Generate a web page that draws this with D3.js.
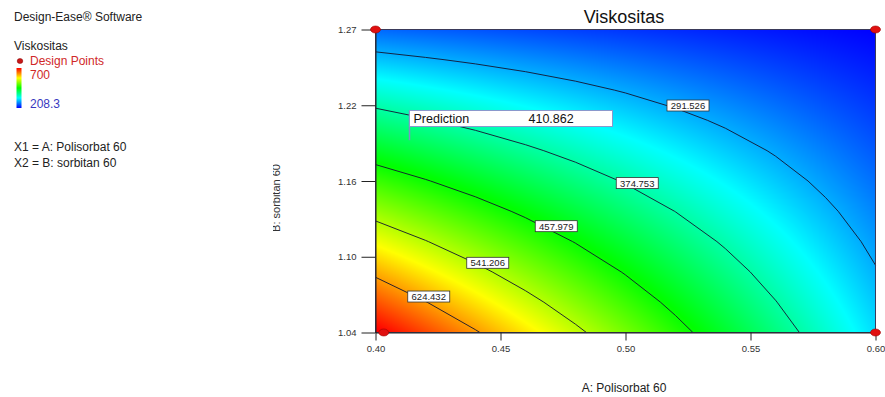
<!DOCTYPE html>
<html>
<head>
<meta charset="utf-8">
<script src="https://cdn.jsdelivr.net/npm/d3@7"></script>
<style>
  body { margin: 0; background: #fff; }
  svg { font-family: "Liberation Sans", Arial, sans-serif; }
</style>
</head>
<body>
<svg id="chart" width="885" height="397"></svg>
<script>
// factor levels of the response grid (A: Polisorbat 60, B: sorbitan 60)
var aLevels = [0.40, 0.42, 0.44, 0.46, 0.48, 0.50, 0.52, 0.54, 0.56, 0.58, 0.60];
var bLevels = [1.04, 1.063, 1.086, 1.109, 1.132, 1.155, 1.178, 1.201, 1.224, 1.247, 1.27];

// Viskositas, one row per B level (bottom to top)
var viskGrid = [
  [706.0, 666.9, 627.9, 588.8, 549.7, 510.7, 471.6, 432.5, 393.4, 354.4, 315.3],
  [661.3, 625.6, 589.9, 554.3, 518.6, 482.9, 447.3, 411.6, 375.9, 340.3, 304.6],
  [616.5, 584.2, 552.0, 519.7, 487.5, 455.2, 422.9, 390.7, 358.4, 326.2, 293.9],
  [571.8, 542.9, 514.0, 485.2, 456.3, 427.5, 398.6, 369.8, 340.9, 312.1, 283.2],
  [527.0, 501.6, 476.1, 450.7, 425.2, 399.8, 374.3, 348.9, 323.4, 298.0, 272.5],
  [482.3, 460.2, 438.2, 416.1, 394.1, 372.0, 350.0, 327.9, 305.9, 283.8, 261.8],
  [437.5, 418.9, 400.2, 381.6, 362.9, 344.3, 325.7, 307.0, 288.4, 269.7, 251.1],
  [392.8, 377.5, 362.3, 347.0, 331.8, 316.6, 301.3, 286.1, 270.9, 255.6, 240.4],
  [348.0, 336.2, 324.3, 312.5, 300.7, 288.9, 277.0, 265.2, 253.4, 241.5, 229.7],
  [303.3, 294.8, 286.4, 278.0, 269.6, 261.1, 252.7, 244.3, 235.9, 227.4, 219.0],
  [258.5, 253.5, 248.5, 243.4, 238.4, 233.4, 228.4, 223.4, 218.3, 213.3, 208.3]
];

var contourLevels = [291.526, 374.753, 457.979, 541.206, 624.432];
var labelA = [0.5250, 0.5047, 0.4723, 0.4449, 0.4213];
var labelB = [1.2123, 1.1534, 1.1207, 1.0929, 1.0673];

var designA = [0.40, 0.60, 0.4033, 0.60];
var designB = [1.27, 1.27, 1.04, 1.04];

var predA = 0.4136, predB = 1.186, predValue = "410.862";

var colorMin = 208.3, colorMax = 700;
var xTicks = [0.40, 0.45, 0.50, 0.55, 0.60];
var yTicks = [1.04, 1.0975, 1.155, 1.2125, 1.27];
var yTickLabels = ["1.04", "1.10", "1.16", "1.22", "1.27"];

var svg = d3.select("#chart");

var x = d3.scaleLinear().domain([0.40, 0.60]).range([375.5, 875.5]);
var y = d3.scaleLinear().domain([1.04, 1.27]).range([332.5, 29.5]);

var rainbow = ["#0000ff", "#00ffff", "#00ff00", "#ffff00", "#ff0000"];
var color = d3.scaleLinear()
    .domain(d3.range(5).map(function(i){ return colorMin + i * (colorMax - colorMin) / 4 }))
    .range(rainbow)
    .clamp(true);

var nx = aLevels.length, ny = bLevels.length;

// grid value at a point (bilinear between grid nodes, for painting only)
function gridAt(a, b){
  var gi = (a - aLevels[0]) / (aLevels[nx-1] - aLevels[0]) * (nx - 1);
  var gj = (b - bLevels[0]) / (bLevels[ny-1] - bLevels[0]) * (ny - 1);
  gi = Math.max(0, Math.min(nx - 1.0001, gi));
  gj = Math.max(0, Math.min(ny - 1.0001, gj));
  var i = Math.floor(gi), j = Math.floor(gj), fi = gi - i, fj = gj - j;
  var v00 = viskGrid[j][i], v10 = viskGrid[j][i+1],
      v01 = viskGrid[j+1][i], v11 = viskGrid[j+1][i+1];
  return (v00 * (1-fi) + v10 * fi) * (1-fj) + (v01 * (1-fi) + v11 * fi) * fj;
}

// colour fill
var px0 = 375, py0 = 30;
var pw = 501, ph = 302;
var canvas = document.createElement("canvas");
canvas.width = pw; canvas.height = ph;
var ctx = canvas.getContext("2d");
var img = ctx.createImageData(pw, ph);
for (var py = 0; py < ph; py++){
  var b = y.invert(py0 + py + 0.5);
  for (var px = 0; px < pw; px++){
    var a = x.invert(px0 + px + 0.5);
    var c = d3.rgb(color(gridAt(a, b)));
    var k = (py * pw + px) * 4;
    img.data[k] = c.r; img.data[k+1] = c.g; img.data[k+2] = c.b; img.data[k+3] = 255;
  }
}
ctx.putImageData(img, 0, 0);
svg.append("image")
    .attr("x", px0).attr("y", py0)
    .attr("width", pw).attr("height", ph)
    .attr("href", canvas.toDataURL());

// contour lines
var flat = [];
viskGrid.forEach(function(row){ row.forEach(function(v){ flat.push(v) }) });
var contours = d3.contours().size([nx, ny]).thresholds(contourLevels)(flat);

function toA(c){ var t = Math.max(0, Math.min(nx - 1, c - 0.5)); return aLevels[0] + t * (aLevels[nx-1] - aLevels[0]) / (nx - 1) }
function toB(c){ var t = Math.max(0, Math.min(ny - 1, c - 0.5)); return bLevels[0] + t * (bLevels[ny-1] - bLevels[0]) / (ny - 1) }
function onEdge(p, q){
  return (p[0] === q[0] && (p[0] === aLevels[0] || p[0] === aLevels[nx-1])) ||
         (p[1] === q[1] && (p[1] === bLevels[0] || p[1] === bLevels[ny-1]));
}

var line = d3.line().x(function(d){ return x(d[0]) }).y(function(d){ return y(d[1]) });
var gLines = svg.append("g").attr("class", "contours");

contours.forEach(function(cn){
  cn.coordinates.forEach(function(poly){
    poly.forEach(function(ring){
      var pts = ring.map(function(p){ return [toA(p[0]), toB(p[1])] });
      var seg = [];
      for (var i = 1; i < pts.length; i++){
        if (onEdge(pts[i-1], pts[i])){
          if (seg.length > 1) gLines.append("path").attr("d", line(seg));
          seg = [];
        } else {
          if (seg.length === 0) seg.push(pts[i-1]);
          seg.push(pts[i]);
        }
      }
      if (seg.length > 1) gLines.append("path").attr("d", line(seg));
    });
  });
});
gLines.selectAll("path")
    .attr("fill", "none")
    .attr("stroke", "#141430")
    .attr("stroke-width", 0.9);

// contour labels
var labels = svg.append("g").selectAll("g")
    .data(contourLevels).enter()
    .append("g")
    .attr("transform", function(d, i){ return "translate(" + x(labelA[i]) + "," + y(labelB[i]) + ")" });
labels.append("rect")
    .attr("x", -21).attr("y", -5.5).attr("width", 42).attr("height", 11)
    .attr("fill", "#fff").attr("stroke", "#333").attr("stroke-width", 0.8);
labels.append("text")
    .attr("text-anchor", "middle").attr("y", 3.5)
    .attr("font-size", 9.5).attr("fill", "#222")
    .text(function(d){ return d3.format(".3f")(d) });

// frame
svg.append("rect")
    .attr("x", x(0.40)).attr("y", y(1.27))
    .attr("width", x(0.60) - x(0.40)).attr("height", y(1.04) - y(1.27))
    .attr("fill", "none").attr("stroke", "#3a3a5a").attr("stroke-width", 1);

// axes
var xAxis = svg.append("g")
    .attr("transform", "translate(0," + y(1.04) + ")")
    .call(d3.axisBottom(x).tickValues(xTicks).tickFormat(d3.format(".2f"))
      .tickSize(8).tickSizeOuter(0).tickPadding(5));
var yAxis = svg.append("g")
    .attr("transform", "translate(" + x(0.40) + ",0)")
    .call(d3.axisLeft(y).tickValues(yTicks).tickFormat(function(d, i){ return yTickLabels[i] })
      .tickSize(14).tickSizeOuter(0).tickPadding(5));
[xAxis, yAxis].forEach(function(g){
  g.attr("font-family", null).attr("font-size", 9.5);
  g.selectAll("path, line").attr("stroke", "#222");
  g.selectAll("text").attr("fill", "#333");
});

// design points
svg.append("g").selectAll("ellipse")
    .data(designA).enter()
    .append("ellipse")
    .attr("cx", function(d){ return x(d) })
    .attr("cy", function(d, i){ return y(designB[i]) })
    .attr("rx", 5).attr("ry", 3.5)
    .attr("fill", "#e01010").attr("stroke", "#a00000").attr("stroke-width", 0.6);

// prediction flag
var fx = x(predA), fy = y(predB);
svg.append("line")
    .attr("x1", fx).attr("x2", fx).attr("y1", fy).attr("y2", 110.5)
    .attr("stroke", "#7f8fc8").attr("stroke-width", 1.5);
svg.append("rect")
    .attr("x", fx).attr("y", 110.5).attr("width", 203).attr("height", 16)
    .attr("fill", "#fff").attr("stroke", "#8a98cc").attr("stroke-width", 1);
svg.append("text").attr("x", fx + 4).attr("y", 123)
    .attr("font-size", 12.5).attr("fill", "#111").text("Prediction");
svg.append("text").attr("x", fx + 119).attr("y", 123)
    .attr("font-size", 12.5).attr("fill", "#111").text(predValue);

// titles
svg.append("text")
    .attr("x", 624).attr("y", 23).attr("text-anchor", "middle")
    .attr("font-size", 18).attr("fill", "#111").text("Viskositas");
svg.append("text")
    .attr("x", 624).attr("y", 392).attr("text-anchor", "middle")
    .attr("font-size", 12).attr("fill", "#222").text("A: Polisorbat 60");

// y title is cut off on its left side in the original
svg.append("clipPath").attr("id", "ylabClip")
  .append("rect").attr("x", 273).attr("y", 140).attr("width", 30).attr("height", 120);
svg.append("g")
    .attr("clip-path", "url(#ylabClip)")
  .append("text")
    .attr("transform", "translate(280,198) rotate(-90)")
    .attr("text-anchor", "middle")
    .attr("font-size", 11).attr("fill", "#333").text("B: sorbitan 60");

// legend
var grad = svg.append("defs").append("linearGradient")
    .attr("id", "legGrad").attr("x1", 0).attr("x2", 0).attr("y1", 1).attr("y2", 0);
rainbow.forEach(function(c, i){
  grad.append("stop").attr("offset", i / 4).attr("stop-color", c);
});

var leg = svg.append("g").attr("font-size", 12);
leg.append("text").attr("x", 14).attr("y", 21).attr("fill", "#222").text("Design-Ease\u00AE Software");
leg.append("text").attr("x", 14).attr("y", 49.5).attr("fill", "#222").text("Viskositas");
leg.append("ellipse").attr("cx", 20).attr("cy", 61).attr("rx", 2.8).attr("ry", 2.5)
    .attr("fill", "#c81818").attr("stroke", "#800").attr("stroke-width", 0.5);
leg.append("text").attr("x", 30).attr("y", 64.5).attr("fill", "#d02828").text("Design Points");
leg.append("rect").attr("x", 16.5).attr("y", 68).attr("width", 5).attr("height", 40)
    .attr("fill", "url(#legGrad)");
leg.append("text").attr("x", 30).attr("y", 78.5).attr("fill", "#d02828").text(d3.format("d")(colorMax));
leg.append("text").attr("x", 30).attr("y", 107.5).attr("fill", "#3838c0").text(colorMin);
leg.append("text").attr("x", 14).attr("y", 150.5).attr("fill", "#222").text("X1 = A: Polisorbat 60");
leg.append("text").attr("x", 14).attr("y", 166.5).attr("fill", "#222").text("X2 = B: sorbitan 60");
</script>
</body>
</html>
